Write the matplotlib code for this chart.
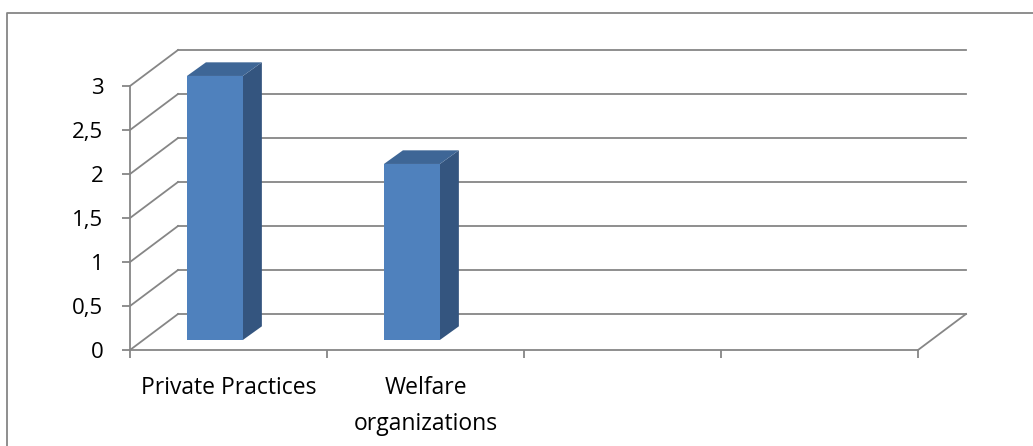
import matplotlib.pyplot as plt
from matplotlib.lines import Line2D
from matplotlib.patches import Polygon

categories = ["Private Practices", "Welfare\norganizations", "", ""]
values = [3, 2, None, None]
y_ticks = [0, 0.5, 1, 1.5, 2, 2.5, 3]
y_tick_labels = ["0", "0,5", "1", "1,5", "2", "2,5", "3"]

plt.rcParams['font.family'] = ['Open Sans', 'DejaVu Sans']

grid_color = '#868686'
face_color = '#4F81BD'
top_color = '#3E6696'
side_color = '#34557F'

# oblique depth of the floor / back wall in data units
depth_x = 0.2437
depth_y = 0.409

# bar placement inside a category (data units)
bar_left = 0.289
bar_width = 0.284
bar_base = 0.114
bar_dx = 0.0964
bar_dy = 0.155

fig = plt.figure(figsize=(10.33, 4.46), dpi=100)
ax = fig.add_axes([130 / 1033, 96 / 446, 788 / 1033, 264 / 446])
ax.set_facecolor('none')

n = len(categories)
ax.set_xlim(0, n)
ax.set_ylim(0, 3)

# back wall grid lines and left wall diagonals
for v in y_ticks:
    ax.plot([depth_x, n + depth_x], [v + depth_y, v + depth_y],
            color=grid_color, lw=1.3, clip_on=False, zorder=1)
    ax.plot([0, depth_x], [v, v + depth_y],
            color=grid_color, lw=1.3, clip_on=False, zorder=1)
# right edge of the floor
ax.plot([n, n + depth_x], [0, depth_y], color=grid_color, lw=1.3,
        clip_on=False, zorder=1)

# 3D columns
for i, v in enumerate(values):
    if v is None:
        continue
    x0 = i + bar_left
    x1 = x0 + bar_width
    b = bar_base
    t = v + bar_base
    front = Polygon([(x0, b), (x1, b), (x1, t), (x0, t)], closed=True,
                    facecolor=face_color, edgecolor='none', zorder=3, clip_on=False)
    side = Polygon([(x1, b), (x1 + bar_dx, b + bar_dy), (x1 + bar_dx, t + bar_dy), (x1, t)],
                   closed=True, facecolor=side_color, edgecolor='none', zorder=3, clip_on=False)
    top = Polygon([(x0, t), (x1, t), (x1 + bar_dx, t + bar_dy), (x0 + bar_dx, t + bar_dy)],
                  closed=True, facecolor=top_color, edgecolor='none', zorder=3, clip_on=False)
    ax.add_patch(side)
    ax.add_patch(top)
    ax.add_patch(front)

for s in ['top', 'right']:
    ax.spines[s].set_visible(False)
for s in ['left', 'bottom']:
    ax.spines[s].set_color(grid_color)
    ax.spines[s].set_linewidth(1.3)

ax.set_yticks(y_ticks)
ax.set_yticklabels(y_tick_labels)
ax.set_xticks(range(n + 1))
ax.set_xticklabels([])
ax.set_xticks([i + 0.5 for i in range(n)], minor=True)
ax.set_xticklabels(categories, minor=True, linespacing=1.62)
ax.tick_params(axis='y', length=5.8, width=1.3, color=grid_color, pad=13.5, labelsize=16)
ax.tick_params(axis='x', which='major', length=5.8, width=1.3, color=grid_color)
ax.tick_params(axis='x', which='minor', length=0, pad=19, labelsize=16.5)

# chart area border
fig.add_artist(Line2D([7 / 1033, 7 / 1033, 1], [0, 1 - 13 / 446, 1 - 13 / 446],
                      transform=fig.transFigure, color=grid_color, lw=1.3))

fig.savefig('out.png', dpi=100)
